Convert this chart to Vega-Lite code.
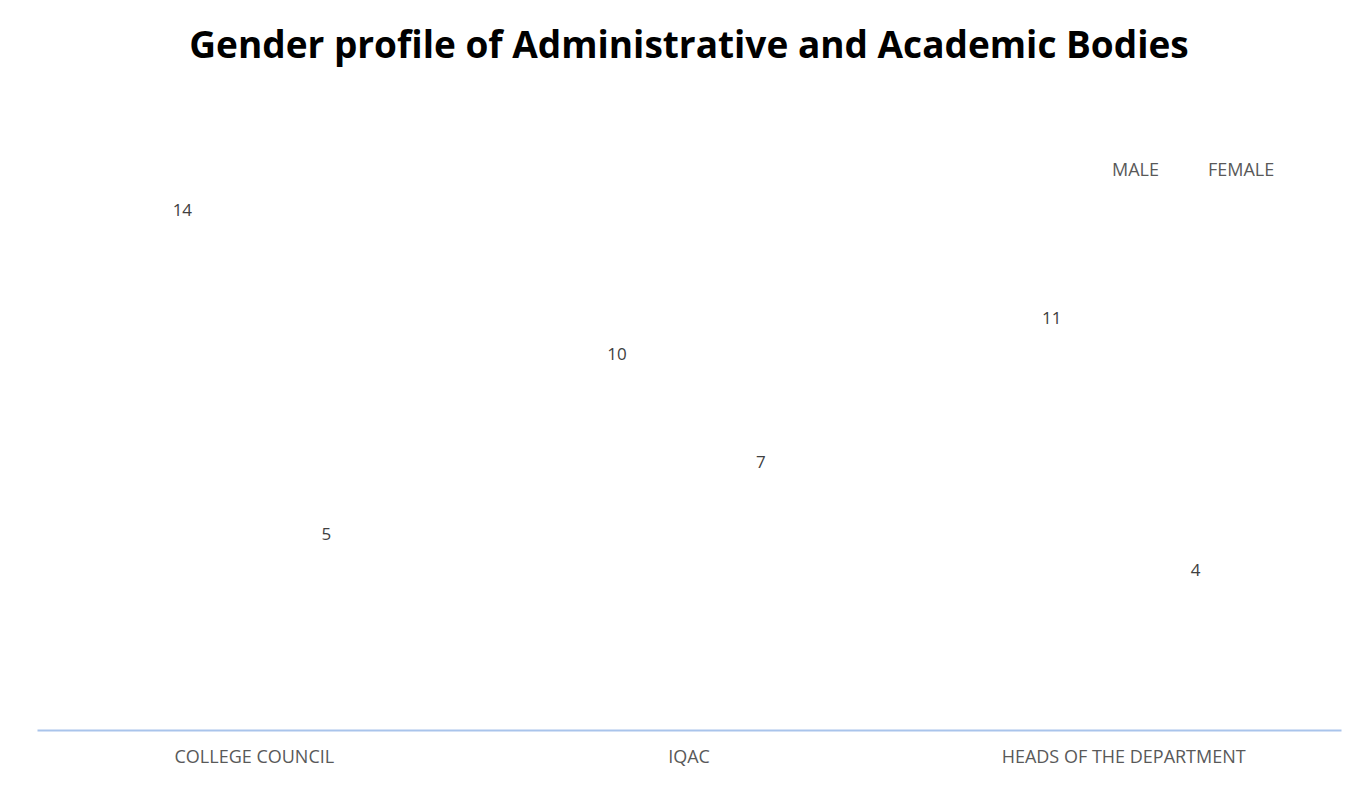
{
  "$schema": "https://vega.github.io/schema/vega-lite/v6.json",
  "autosize": {"type": "none"},
  "padding": {"left": 37, "top": 154, "right": 5, "bottom": 60},
  "width": 1304,
  "height": 576,
  "background": "white",
  "title": {
    "text": "Gender profile of Administrative and Academic Bodies",
    "font": "Open Sans",
    "fontSize": 37,
    "fontWeight": "bold",
    "color": "#000000",
    "anchor": "middle",
    "offset": 88
  },
  "data": {
    "values": [
      {"body": "COLLEGE COUNCIL", "gender": "MALE", "count": 14},
      {"body": "COLLEGE COUNCIL", "gender": "FEMALE", "count": 5},
      {"body": "IQAC", "gender": "MALE", "count": 10},
      {"body": "IQAC", "gender": "FEMALE", "count": 7},
      {"body": "HEADS OF THE DEPARTMENT", "gender": "MALE", "count": 11},
      {"body": "HEADS OF THE DEPARTMENT", "gender": "FEMALE", "count": 4}
    ]
  },
  "encoding": {
    "x": {
      "field": "body",
      "type": "nominal",
      "sort": ["COLLEGE COUNCIL", "IQAC", "HEADS OF THE DEPARTMENT"],
      "scale": {"paddingInner": 0, "paddingOuter": 0},
      "axis": {
        "title": null,
        "labelAngle": 0,
        "ticks": false,
        "zindex": 1,
        "labelLimit": 0,
        "domainColor": "#a9c4eb",
        "domainWidth": 2,
        "labelColor": "#595959",
        "labelFont": "Open Sans",
        "labelFontSize": 18,
        "labelPadding": 18
      }
    },
    "xOffset": {
      "field": "gender",
      "type": "nominal",
      "sort": ["MALE", "FEMALE"],
      "scale": {"paddingInner": 0, "paddingOuter": 0.51}
    },
    "y": {
      "field": "count",
      "type": "quantitative",
      "scale": {"domain": [0, 16], "nice": false},
      "axis": null
    }
  },
  "layer": [
    {
      "mark": {"type": "bar", "stroke": null},
      "encoding": {
        "color": {
          "field": "gender",
          "type": "nominal",
          "sort": ["MALE", "FEMALE"],
          "scale": {"range": ["#ffffff", "#ffffff"]},
          "legend": {
            "title": null,
            "orient": "none",
            "direction": "horizontal",
            "legendX": 1053,
            "legendY": 8,
            "symbolSize": 100,
            "symbolOpacity": 0,
            "symbolStrokeWidth": 0,
            "labelOffset": 4,
            "columnPadding": 27,
            "labelColor": "#595959",
            "labelFont": "Open Sans",
            "labelFontSize": 18
          }
        }
      }
    },
    {
      "mark": {"type": "text", "dy": -15, "font": "Open Sans", "fontSize": 17, "color": "#404040"},
      "encoding": {
        "text": {"field": "count", "type": "quantitative"}
      }
    }
  ],
  "config": {"view": {"stroke": null}}
}
